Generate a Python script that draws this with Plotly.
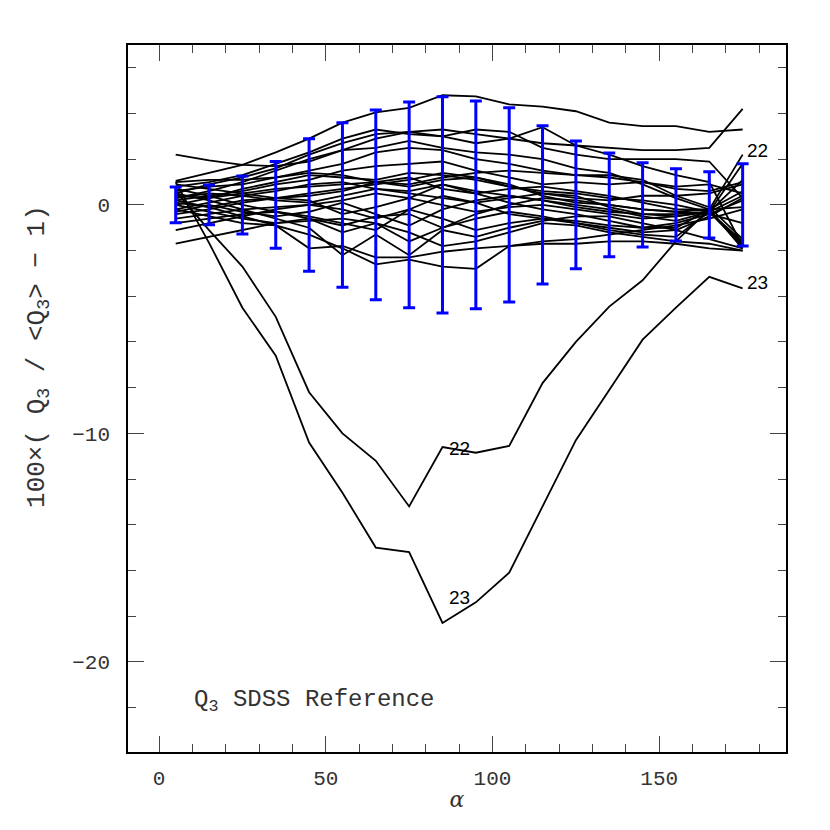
import plotly.graph_objects as go

alpha = [5, 15, 25, 35, 45, 55, 65, 75, 85, 95, 105, 115, 125, 135, 145, 155, 165, 175]

# spread of the reference sample (half length of the blue bars)
err = [0.78, 0.87, 1.27, 1.9, 2.9, 3.6, 4.15, 4.5, 4.73, 4.55, 4.25, 3.46, 2.8, 2.27, 1.84, 1.58, 1.45, 1.8]

# ordinary fields
fields = [
    [1.05, 1.4, 1.75, 2.3, 2.9, 3.6, 4.05, 4.25, 4.8, 4.75, 4.4, 4.3, 4.1, 3.6, 3.45, 3.45, 3.2, 3.3],
    [2.2, 1.95, 1.75, 1.7, 1.9, 2.4, 2.9, 3.2, 3.3, 3.1, 2.9, 2.7, 2.6, 2.5, 2.4, 2.4, 2.5, 4.2],
    [0.8, 1.0, 1.3, 1.8, 2.3, 2.9, 3.3, 3.1, 3.0, 3.3, 3.2, 2.5, 2.2, 2.0, 2.0, 2.0, 1.9, 0.3],
    [0.5, 0.9, 1.2, 1.6, 2.2, 2.7, 3.1, 3.2, 3.0, 2.7, 2.9, 3.4, 2.6, 2.2, 1.7, 1.3, 1.0, -1.8],
    [0.3, 0.6, 1.0, 1.5, 2.0, 2.4, 2.5, 2.8, 2.5, 2.3, 2.2, 2.0, 1.6, 1.4, 0.9, 0.3, -0.2, -1.9],
    [0.6, 0.8, 0.9, 1.2, 1.5, 1.8, 2.3, 2.5, 2.4, 2.0, 1.8, 1.5, 1.3, 1.2, 1.0, 0.8, 0.9, 0.5],
    [0.2, 0.4, 0.6, 0.9, 1.1, 1.5, 1.7, 1.8, 1.9, 1.5, 1.2, 0.9, 1.0, 0.9, 1.0, 0.7, 0.6, 1.0],
    [0.0, 0.3, 0.7, 1.0, 1.3, 1.2, 1.1, 1.4, 1.3, 1.1, 0.8, 0.5, 0.3, 0.2, 0.4, 0.4, 0.5, 0.9],
    [1.0, 1.1, 1.1, 1.2, 1.4, 1.3, 1.0, 0.9, 1.2, 1.4, 1.5, 1.4, 1.3, 1.3, 1.1, 0.4, -0.1, -1.5],
    [0.4, 0.3, 0.5, 0.7, 0.8, 0.9, 1.0, 0.8, 1.1, 1.2, 0.9, 0.4, 0.1, 0.0, -0.2, -0.3, -0.4, 0.2],
    [-0.2, 0.1, 0.4, 0.6, 0.9, 1.0, 0.7, 0.6, 0.9, 0.6, 0.4, 0.2, 0.0, -0.2, -0.5, -0.7, -0.3, -1.7],
    [0.1, -0.1, 0.2, 0.3, 0.5, 0.7, 0.9, 1.1, 1.4, 1.2, 0.8, 0.6, 0.5, 0.3, 0.2, 0.0, -0.3, -1.8],
    [-0.4, -0.2, 0.1, 0.3, 0.4, 0.6, 1.0, 1.2, 0.7, 0.5, 0.7, 0.8, 0.6, 0.4, 0.1, -0.2, -0.2, 0.6],
    [0.3, 0.5, 0.4, 0.2, 0.1, 0.4, 0.7, 0.5, 0.3, 0.1, 0.3, 0.5, 0.4, -0.1, -0.4, -0.5, -0.3, 1.1],
    [-0.6, -0.4, -0.2, -0.1, 0.0, 0.2, 0.5, 0.3, 0.0, -0.3, -0.1, 0.0, -0.2, -0.4, -0.6, -0.5, -0.3, 1.8],
    [-0.3, 0.0, -0.3, -0.5, -0.3, 0.1, -0.4, -0.9, -0.2, 0.2, 0.4, 0.2, -0.1, -0.3, -0.4, -0.4, -0.3, 0.4],
    [0.7, 0.4, 0.0, -0.3, -0.5, -0.8, -1.1, -0.2, 0.4, 0.1, -0.4, -0.6, -0.7, -0.9, -1.0, -0.8, -0.4, -0.8],
    [0.0, -0.3, -0.6, -0.8, -0.6, -0.9, -0.5, -0.4, -1.0, -0.4, 0.0, 0.3, 0.2, 0.0, -0.2, -0.3, -0.2, -0.1],
    [-0.8, -0.6, -0.4, -0.3, -0.6, -1.2, -0.8, -1.6, -1.0, -0.6, -0.3, -0.5, -0.8, -1.0, -1.2, -1.1, -0.5, 0.3],
    [-1.1, -0.8, -0.5, -0.2, 0.0, -0.2, -0.6, -0.2, -0.6, -1.1, -0.8, -0.6, -0.8, -1.1, -1.3, -1.4, -0.3, -1.6],
    [-1.7, -1.4, -1.1, -0.8, -0.7, -0.6, -0.8, -1.2, -1.8, -1.6, -1.2, -0.8, -0.9, -1.2, -1.4, -1.6, -1.7, -2.0],
    [0.5, 0.2, -0.2, -0.6, -1.0, -2.2, -1.3, -2.2, -1.1, -1.4, -1.0, -0.7, -0.5, -0.5, -0.8, -1.1, -1.5, -1.9],
    [0.2, -0.1, -0.5, -0.9, -1.3, -1.9, -2.6, -2.4, -2.7, -2.8, -1.8, -1.6, -1.5, -1.3, -1.1, -0.9, -0.6, -0.2],
    [-0.2, -0.5, -0.8, -0.9, -1.9, -1.8, -2.3, -2.3, -2.05, -1.9, -1.8, -1.7, -1.7, -1.6, -1.6, -1.7, -1.9, -2.0],
    [0.9, 0.7, 0.5, 0.3, 0.2, -0.4, -0.1, 0.3, 0.9, 0.5, 0.1, -0.2, -0.4, -0.7, -1.0, -1.0, -0.2, -1.9],
]

# the two outlying fields
field_22 = [0.6, -1.1, -2.7, -4.9, -8.2, -10.0, -11.2, -13.2, -10.6, -10.85, -10.55, -7.8, -6.0, -4.45, -3.3, -1.6, -0.2, 2.2]
field_23 = [1.0, -1.66, -4.5, -6.6, -10.4, -12.6, -15.0, -15.2, -18.3, -17.4, -16.1, -13.2, -10.3, -8.1, -5.9, -4.5, -3.15, -3.65]

labels = [("22", 175.8, 2.4), ("23", 175.8, -3.4), ("22", 86.3, -10.65), ("23", 86.3, -17.2)]

MONO = "Liberation Mono, Courier New, monospace"

fig = go.Figure()
for ys in fields + [field_22, field_23]:
    fig.add_trace(go.Scatter(x=alpha, y=ys, mode="lines",
                             line=dict(color="black", width=1.8), hoverinfo="skip"))

fig.add_trace(go.Scatter(
    x=alpha, y=[0] * len(alpha), mode="markers",
    marker=dict(size=1, color="blue", opacity=0),
    error_y=dict(type="data", array=err, color="#0000ff", thickness=3, width=6),
))

for txt, lx, ly in labels:
    fig.add_annotation(x=lx, y=ly, text=txt, showarrow=False, xanchor="left",
                       font=dict(family="Liberation Sans, Arial, sans-serif", size=19, color="black"))

fig.add_annotation(x=10, y=-21.7, text="Q<sub>3</sub> SDSS Reference", showarrow=False,
                   xanchor="left", font=dict(family=MONO, size=24, color="#333"))

# y title placed by hand: it sits above the middle of the axis in the original
fig.add_annotation(xref="paper", yref="paper", x=-0.137, y=0.56, textangle=-90,
                   text="100×( Q<sub>3</sub> / &lt;Q<sub>3</sub>&gt; − 1)", showarrow=False,
                   xanchor="center", yanchor="middle",
                   font=dict(family=MONO, size=26, color="#333"))

tickfont = dict(family=MONO, size=21, color="#333")
axis_common = dict(showgrid=False, zeroline=False, showline=True, linecolor="black", linewidth=1.5,
                   mirror="allticks", ticks="inside", ticklen=16, tickwidth=1, tickcolor="#444",
                   tickfont=tickfont)

fig.update_xaxes(range=[-9.3, 188], tickvals=[0, 50, 100, 150], ticklabelstandoff=6,
                 minor=dict(dtick=10, tick0=0, ticks="inside", ticklen=8, tickcolor="#444"),
                 title=dict(text="<i>α</i>", font=dict(family="DejaVu Serif, serif", size=22, color="#333"),
                            standoff=2),
                 **axis_common)
fig.update_yaxes(range=[-23.95, 7.0], tickvals=[-20, -10, 0], ticktext=["−20", "−10", "0"],
                 ticklabelstandoff=12,
                 minor=dict(dtick=2, tick0=0, ticks="inside", ticklen=8, tickcolor="#444"),
                 **axis_common)

fig.update_layout(width=822, height=822, showlegend=False, plot_bgcolor="white",
                  paper_bgcolor="white", margin=dict(l=120, r=44, t=37, b=78))

fig.write_html("out.html")
